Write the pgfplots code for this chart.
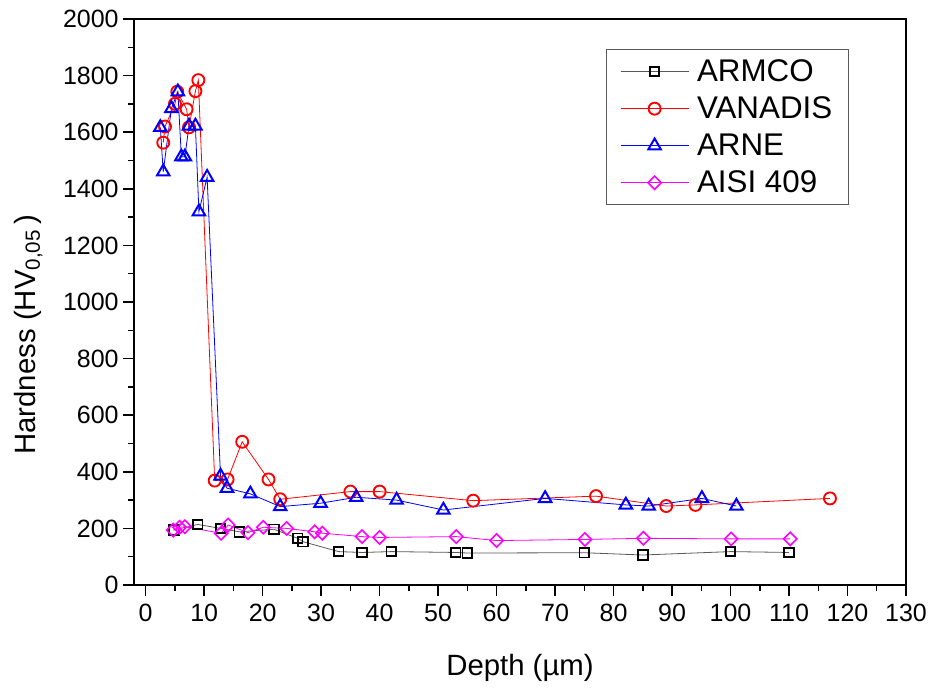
\documentclass[border=0pt]{standalone}
\usepackage{fontspec}
\setmainfont{Liberation Sans}
\usepackage{pgfplots}
\pgfplotsset{compat=1.18}
\definecolor{pinkm}{RGB}{255,0,255}

% hardness profiles
\pgfplotstableread{
x y
4.8 194
8.9 214
12.8 200
16.0 188
21.9 197
26.0 165
26.9 153
33.0 118
37.0 115
42.0 118
53.0 115
55.0 113
75.0 114
85.0 106
100.0 118
110.0 115
}\armco
\pgfplotstableread{
x y
3.0 1563
3.3 1620
5.0 1700
5.4 1743
7.0 1681
7.4 1617
8.5 1745
9.0 1784
11.8 369
14.0 373
16.5 506
21.0 373
23.0 303
35.0 330
40.0 330
56.0 298
77.0 314
89.0 279
94.0 283
117.0 306
}\vanadis
\pgfplotstableread{
x y
2.5 1617
3.0 1460
4.4 1684
5.5 1743
6.1 1513
6.7 1513
7.4 1622
8.5 1622
9.1 1319
10.5 1441
12.8 385
13.9 342
17.9 322
23.0 277
29.9 289
36.0 310
42.9 300
50.9 265
68.3 306
82.1 283
86.0 279
95.1 306
101.0 279
}\arne
\pgfplotstableread{
x y
4.7 194
5.8 204
6.7 206
12.9 183
14.1 212
17.5 185
20.1 204
24.1 200
28.9 188
30.2 183
37.0 171
40.0 168
53.1 171
60.0 157
75.1 161
85.1 165
100.1 163
110.2 163
}\aisi

\begin{document}
\begin{tikzpicture}
% page = 933x689 px at 0.75pt per px, axis box lower left at origin
\useasboundingbox (-100.5pt,-78pt) rectangle (599.25pt,438.75pt);
\begin{axis}[
  at={(0,0)}, anchor=south west,
  scale only axis, width=579pt, height=424.5pt,
  xmin=-2, xmax=130, ymin=0, ymax=2000,
  xtick={0,10,...,130}, minor x tick num=1,
  ytick={0,200,...,2000}, minor y tick num=1,
  tick pos=left, tick align=outside,
  major tick length=8pt, minor tick length=4.5pt,
  axis line style={line width=1.2pt},
  every tick/.style={line width=1.1pt, black},
  /pgf/number format/assume math mode=true,
  /pgf/number format/1000 sep={},
  tick label style={font=\fontsize{18.75}{20}\selectfont},
  xticklabel style={yshift=-3pt},
  label style={font=\fontsize{22}{26}\selectfont},
  xlabel={Depth (µm)},
  ylabel={Hardness (HV\textsubscript{0,05}\,)},
  xlabel style={at={(axis description cs:0.5,-0.147)}, anchor=center},
  ylabel style={at={(axis description cs:-0.137,0.442)}, anchor=center},
  legend style={at={(0.611,0.947)}, anchor=north west,
    draw=gray!70!black, line width=0.8pt,
    font=\fontsize{23.5}{27}\selectfont,
    inner xsep=10.5pt, inner ysep=5.5pt, row sep=6pt,
    /tikz/every odd column/.append style={column sep=4pt}},
  legend cell align=left,
  legend image code/.code={
    \draw[mark repeat=2,mark phase=2,#1]
      plot coordinates {(0pt,0pt)(25.5pt,0pt)(51pt,0pt)};
  },
]
\addplot[black!65, line width=0.6pt, mark=square, mark size=3.6pt,
  mark options={draw=black, line width=1.4pt}] table {\armco};
\addlegendentry{ARMCO}
\addplot[red, line width=0.6pt, mark=o, mark size=4.5pt,
  mark options={line width=1.4pt}] table {\vanadis};
\addlegendentry{VANADIS}
\addplot[blue, line width=0.6pt, mark=triangle, mark size=5.4pt,
  mark options={line width=1.5pt}] table {\arne};
\addlegendentry{ARNE}
\addplot[pinkm, line width=0.6pt, mark=square, mark size=3.5pt,
  mark options={rotate=45, line width=1.2pt}] table {\aisi};
\addlegendentry{AISI 409}
\end{axis}
\end{tikzpicture}
\end{document}
